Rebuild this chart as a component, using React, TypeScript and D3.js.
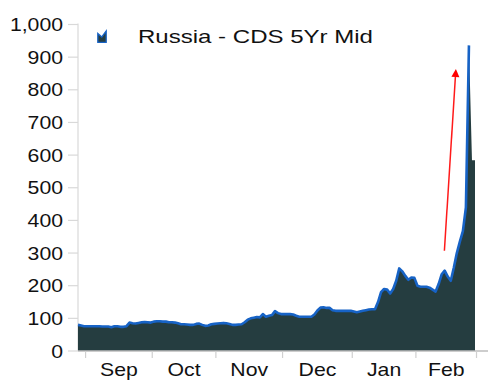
import React from 'react';
import * as d3 from 'd3';

// business-day series, first observation Fri 27 Aug 2021
const startDate = new Date(2021, 7, 27);
const cdsValues = [
  80, 78, 76, 76, 76, 76, 76, 76, 75, 75,
  75, 73, 76, 76, 74, 74, 76, 87, 85, 84,
  86, 88, 89, 88, 87, 90, 91, 91, 90, 90,
  88, 88, 87, 85, 82, 82, 81, 80, 80, 83,
  84, 80, 77, 78, 82, 83, 84, 85, 86, 85,
  83, 80, 80, 81, 82, 88, 96, 100, 102, 104,
  103, 113, 105, 108, 110, 122, 116, 113, 113, 113,
  113, 112, 108, 105, 105, 105, 105, 105, 112, 124,
  133, 134, 132, 132, 125, 123, 123, 123, 123, 123,
  123, 121, 119, 121, 123, 125, 127, 128, 128, 150,
  180, 190, 188, 176, 190, 215, 253, 244, 230, 218,
  225, 224, 200, 197, 197, 197, 194, 188, 182, 205,
  235, 246, 228, 215, 255, 300, 335, 367, 440, 936,
  584, 584,
];
const lineEndIndex = 129; // blue outline stops at the peak
const yTicks = [0, 100, 200, 300, 400, 500, 600, 700, 800, 900, 1000];
const legendLabel = 'Russia - CDS 5Yr Mid';
// red annotation arrow (business-day index, CDS value)
const arrowIdx = [120.9, 124.7];
const arrowVal = [307, 864];

const FONT = '"Liberation Sans", Arial, sans-serif';
const SX = 1.18;

const App = () => {
  const width = 500;
  const height = 385;
  const margin = { top: 24.5, right: 25, bottom: 34, left: 78 };

  const n = cdsValues.length;
  const days = d3.timeDay
    .range(startDate, new Date(2022, 2, 2))
    .filter(d => d.getDay() % 6 !== 0)
    .slice(0, n);

  const x = d3.scaleLinear().domain([0, n - 1]).range([margin.left, 475]);
  const y = d3.scaleLinear().domain([0, 1000]).range([height - margin.bottom, margin.top]);

  // month boundaries
  const bounds: number[] = [];
  days.forEach((d, i) => {
    if (i > 0 && d.getMonth() !== days[i - 1].getMonth()) bounds.push(i - 0.5);
  });
  bounds.push(n - 0.5);
  const fmt = d3.timeFormat('%b');
  const months = bounds.slice(0, -1).map((b, k) => ({
    label: fmt(days[Math.ceil(b)]),
    pos: (x(b) + x(bounds[k + 1])) / 2,
  }));

  const area = d3.area<number>()
    .x((d, i) => x(i))
    .y0(y(0))
    .y1(d => y(d));
  const line = d3.line<number>()
    .x((d, i) => x(i))
    .y(d => y(d));

  const ax0 = x(arrowIdx[0]), ay0 = y(arrowVal[0]);
  const ax1 = x(arrowIdx[1]), ay1 = y(arrowVal[1]);
  const ang = Math.atan2(ay1 - ay0, ax1 - ax0);
  const headLen = 8, headW = 4;
  const bx = ax1 - headLen * Math.cos(ang), by = ay1 - headLen * Math.sin(ang);
  const head = [
    [ax1, ay1],
    [bx + headW * Math.sin(ang), by - headW * Math.cos(ang)],
    [bx - headW * Math.sin(ang), by + headW * Math.cos(ang)],
  ].map(p => p.join(',')).join(' ');

  return (
    <svg width={width} height={height} style={{ position: 'absolute', left: 0, top: 0, background: '#fff' }}>
      {/* y axis */}
      <line x1={margin.left} x2={margin.left} y1={y(1000) - 1} y2={y(0)} stroke="#d9d9d9" strokeWidth={1.2} />
      {yTicks.map(t => (
        <g key={t}>
          <line x1={68} x2={margin.left} y1={y(t)} y2={y(t)} stroke="#d9d9d9" strokeWidth={1.2} />
          <text
            transform={`translate(63,${y(t) + 6.5}) scale(${SX},1)`}
            textAnchor="end"
            fontFamily={FONT}
            fontSize={18}
            fill="#111"
          >
            {d3.format(',')(t)}
          </text>
        </g>
      ))}

      {/* series */}
      <path d={area(cdsValues) || ''} fill="#253d40" />
      <path d={line(cdsValues.slice(0, lineEndIndex + 1)) || ''} fill="none" stroke="#1763c6" strokeWidth={2.6} strokeLinejoin="round" />

      {/* x axis */}
      <line x1={margin.left} x2={488} y1={y(0)} y2={y(0)} stroke="#bdbdbd" strokeWidth={1.5} />
      {bounds.map(b => (
        <line key={b} x1={x(b)} x2={x(b)} y1={y(0)} y2={y(0) + 7} stroke="#d0d0d0" strokeWidth={1.2} />
      ))}
      {months.map(m => (
        <text
          key={m.label}
          transform={`translate(${m.pos},376) scale(${SX},1)`}
          textAnchor="middle"
          fontFamily={FONT}
          fontSize={18}
          fill="#111"
        >
          {m.label}
        </text>
      ))}

      {/* annotation arrow */}
      <line x1={ax0} y1={ay0} x2={bx} y2={by} stroke="#ff1a1a" strokeWidth={1.5} />
      <polygon points={head} fill="#ff0000" />

      {/* legend */}
      <path
        d="M97.8,42.3 L97.8,33.5 L101.8,37 L106.2,31 L106.2,42.3 Z"
        fill="#253d40"
        stroke="#1763c6"
        strokeWidth={1.3}
      />
      <text
        x={138}
        y={42.7}
        textLength={235}
        lengthAdjust="spacingAndGlyphs"
        fontFamily={FONT}
        fontSize={18.5}
        fill="#111"
      >
        {legendLabel}
      </text>
    </svg>
  );
};

export default App;
